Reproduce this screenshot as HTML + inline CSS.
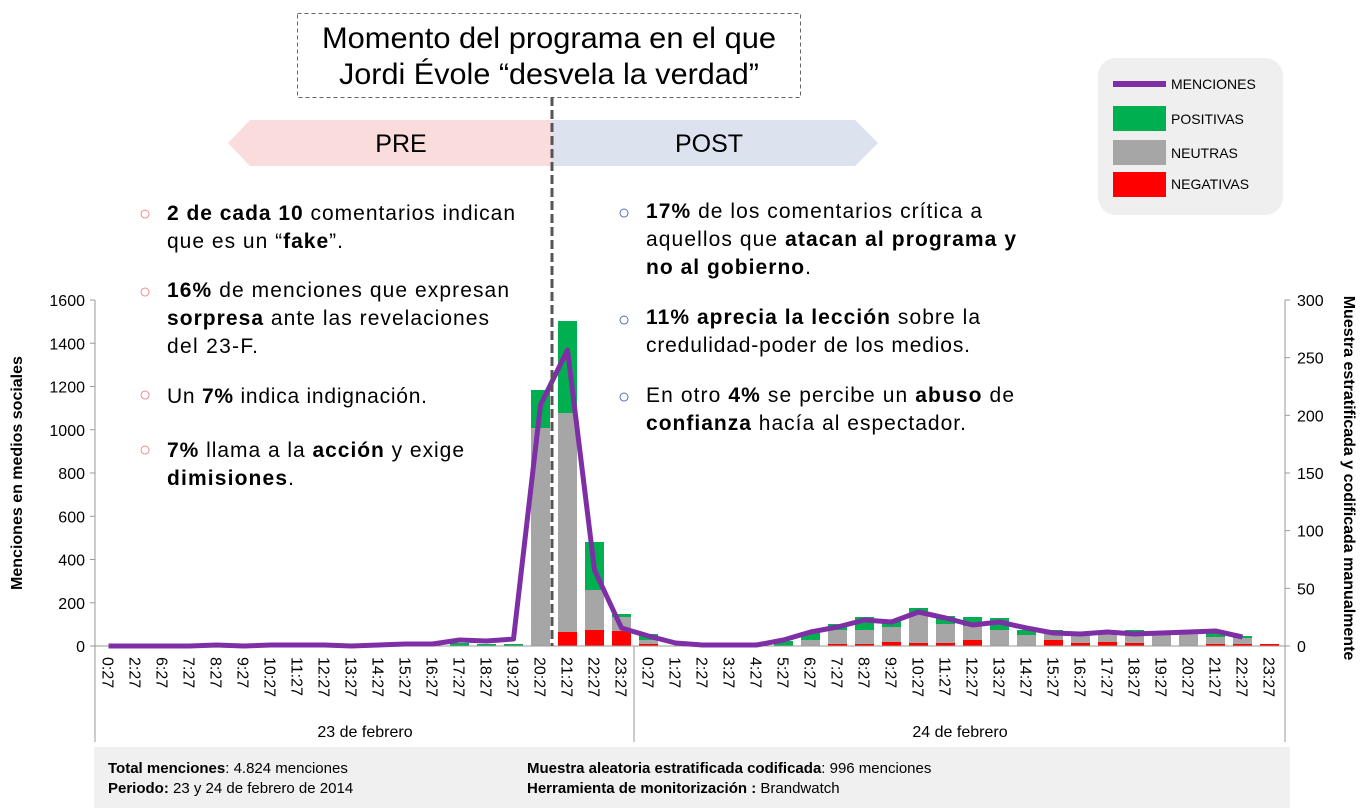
<!DOCTYPE html>
<html><head><meta charset="utf-8"><style>
body{margin:0;width:1365px;height:808px;background:#fff;overflow:hidden;font-family:"Liberation Sans",sans-serif}
svg{position:absolute;left:0;top:0}
.t{font-family:"Liberation Sans",sans-serif;fill:#000}
</style></head><body>
<svg id="s" width="1365" height="808" xmlns="http://www.w3.org/2000/svg">
<rect x="94" y="747" width="1196" height="61" fill="#f0f0f0"/>
<rect x="297.5" y="13.5" width="503" height="84" fill="#fff" stroke="#666" stroke-dasharray="4,3"/>
<text class="t" x="322" y="48" font-size="30" textLength="454" lengthAdjust="spacingAndGlyphs">Momento del programa en el que</text>
<text class="t" x="339" y="84" font-size="30" textLength="420" lengthAdjust="spacingAndGlyphs">Jordi Évole “desvela la verdad”</text>
<polygon points="552,120 250,120 228,143 250,166 552,166" fill="#fbdcdc"/>
<polygon points="552,120 855,120 878,143 855,166 552,166" fill="#dce3ef"/>
<text class="t" x="401" y="152" font-size="25" text-anchor="middle">PRE</text>
<text class="t" x="709" y="152" font-size="25" text-anchor="middle">POST</text>
<rect x="1098" y="58" width="185" height="157" rx="18" fill="#efefef"/>
<line x1="1113" y1="84" x2="1166" y2="84" stroke="#7f2fa5" stroke-width="6"/>
<text class="t" x="1171" y="89" font-size="14">MENCIONES</text>
<rect x="1113" y="106" width="53" height="25" fill="#00b050"/>
<text class="t" x="1171" y="124" font-size="14">POSITIVAS</text>
<rect x="1113" y="140" width="53" height="25" fill="#a6a6a6"/>
<text class="t" x="1171" y="158" font-size="14">NEUTRAS</text>
<rect x="1113" y="172" width="53" height="25" fill="#ff0000"/>
<text class="t" x="1171" y="189" font-size="14">NEGATIVAS</text>
<g font-size="21" class="t">
<g fill="#f08080" font-size="20"><text x="139" y="220">○</text><text x="139" y="298">○</text><text x="139" y="401">○</text><text x="139" y="456">○</text></g>
<text x="167" y="220" textLength="348" lengthAdjust="spacing"><tspan font-weight="bold">2 de cada 10</tspan> comentarios indican</text>
<text x="167" y="248" textLength="176" lengthAdjust="spacing">que es un “<tspan font-weight="bold">fake</tspan>”.</text>
<text x="167" y="297" textLength="342" lengthAdjust="spacing"><tspan font-weight="bold">16%</tspan> de menciones que expresan</text>
<text x="167" y="325" textLength="322" lengthAdjust="spacing"><tspan font-weight="bold">sorpresa</tspan> ante las revelaciones</text>
<text x="167" y="353" textLength="91" lengthAdjust="spacing">del 23-F.</text>
<text x="167" y="403" textLength="260" lengthAdjust="spacing">Un <tspan font-weight="bold">7%</tspan> indica indignación.</text>
<text x="167" y="457" textLength="297" lengthAdjust="spacing"><tspan font-weight="bold">7%</tspan> llama a la <tspan font-weight="bold">acción</tspan> y exige</text>
<text x="167" y="485" textLength="127" lengthAdjust="spacing"><tspan font-weight="bold">dimisiones</tspan>.</text>
<g fill="#4060b0" font-size="20"><text x="618" y="219">○</text><text x="618" y="326">○</text><text x="618" y="403">○</text></g>
<text x="646" y="218" textLength="336" lengthAdjust="spacing"><tspan font-weight="bold">17%</tspan> de los comentarios crítica a</text>
<text x="646" y="246" textLength="370" lengthAdjust="spacing">aquellos que <tspan font-weight="bold">atacan al programa y</tspan></text>
<text x="646" y="274" textLength="165" lengthAdjust="spacing"><tspan font-weight="bold">no al gobierno</tspan>.</text>
<text x="646" y="324" textLength="334" lengthAdjust="spacing"><tspan font-weight="bold">11% aprecia la lección</tspan> sobre la</text>
<text x="646" y="352" textLength="324" lengthAdjust="spacing">credulidad-poder de los medios.</text>
<text x="646" y="402" textLength="368" lengthAdjust="spacing">En otro <tspan font-weight="bold">4%</tspan> se percibe un <tspan font-weight="bold">abuso</tspan> de</text>
<text x="646" y="430" textLength="320" lengthAdjust="spacing"><tspan font-weight="bold">confianza</tspan> hacía al espectador.</text>
</g>
<text class="t" font-size="16" font-weight="bold" transform="translate(22,473) rotate(-90)" text-anchor="middle">Menciones en medios sociales</text>
<text class="t" font-size="16" font-weight="bold" transform="translate(1344,478) rotate(90)" text-anchor="middle">Muestra estratificada y codificada manualmente</text>
<g id="ch"></g>
<g font-size="15" class="t">
<text x="108" y="773" font-weight="bold">Total menciones<tspan font-weight="normal">: 4.824 menciones</tspan></text>
<text x="108" y="793" font-weight="bold">Periodo: <tspan font-weight="normal">23 y 24 de febrero de 2014</tspan></text>
<text x="527" y="773" font-weight="bold">Muestra aleatoria estratificada codificada<tspan font-weight="normal">: 996 menciones</tspan></text>
<text x="527" y="793" font-weight="bold">Herramienta de monitorización : <tspan font-weight="normal">Brandwatch</tspan></text>
</g>
<text class="t" x="365" y="737" font-size="16" text-anchor="middle">23 de febrero</text>
<text class="t" x="960" y="737" font-size="16" text-anchor="middle">24 de febrero</text>
</svg>
<script>
const g=document.getElementById('ch');let h='';
const L=95,R=1285,B=646,T=300,W=27;
h+=`<line x1="${L}" y1="${T}" x2="${L}" y2="742" stroke="#999"/>`;
h+=`<line x1="${R}" y1="${T}" x2="${R}" y2="742" stroke="#999"/>`;
h+=`<line x1="634" y1="${B}" x2="634" y2="742" stroke="#999"/>`;
for(let i=0;i<=8;i++){const y=B-i*43.25;h+=`<line x1="${L-5}" y1="${y}" x2="${L}" y2="${y}" stroke="#999"/><text x="${L-10}" y="${y+6}" font-size="16" text-anchor="end" font-family="Liberation Sans">${i*200}</text>`;}
for(let i=0;i<=6;i++){const y=B-i*57.67;h+=`<line x1="${R}" y1="${y}" x2="${R+5}" y2="${y}" stroke="#999"/><text x="${R+12}" y="${y+6}" font-size="16" font-family="Liberation Sans">${i*50}</text>`;}
const labs=[0,2,6,7,8,9,10,11,12,13,14,15,16,17,18,19,20,21,22,23];for(let i=0;i<24;i++)labs.push(i);
const bars={13:[646,646,643],14:[646,646,644],15:[646,646,644],16:[646,428,390],17:[632,413,321],18:[630,590,542],19:[631,617,614],
20:[644,640,634],25:[646,646,641],26:[646,640,632],27:[644,630,624],28:[644,630,617],29:[642,627,620],30:[643,614,608],31:[643,624,616],32:[640,626,617],33:[646,630,618],34:[646,635,630],35:[640,634,630],36:[643,635,634],37:[642,634,631],38:[643,633,630],39:[646,634,632],40:[646,634,632],41:[644,637,631],42:[644,638,636],43:[644,646,646]};
for(const k in bars){const [r,gy,gr]=bars[k];const x=L+k*W+4,w=19;
h+=`<rect x="${x}" y="${gr}" width="${w}" height="${gy-gr}" fill="#00b050"/><rect x="${x}" y="${gy}" width="${w}" height="${r-gy}" fill="#a6a6a6"/><rect x="${x}" y="${r}" width="${w}" height="${B-r}" fill="#ff0000"/>`;}
h+=`<line x1="${L}" y1="${B}" x2="${R}" y2="${B}" stroke="#999"/>`;
labs.forEach((v,i)=>{const x=L+(i+0.5)*W;h+=`<text transform="translate(${x-6},657) rotate(90)" font-size="16" font-family="Liberation Sans">${v}:27</text>`;});
const ly=[646,646,646,646,645,646,645,645,645,646,645,644,644,640,641,639,405,350,570,628,636,643,645,645,645,640,632,627,620,622,612,618,625,622,628,633,634,632,634,633,632,631,637];
h+=`<polyline fill="none" stroke="#7f2fa5" stroke-width="5" stroke-linejoin="round" points="${ly.map((y,i)=>(L+(i+0.5)*W)+','+y).join(' ')}"/>`;
h+=`<line x1="552" y1="97" x2="552" y2="646" stroke="#555" stroke-width="3" stroke-dasharray="9,4"/>`;
g.innerHTML=h;
</script>
</body></html>
